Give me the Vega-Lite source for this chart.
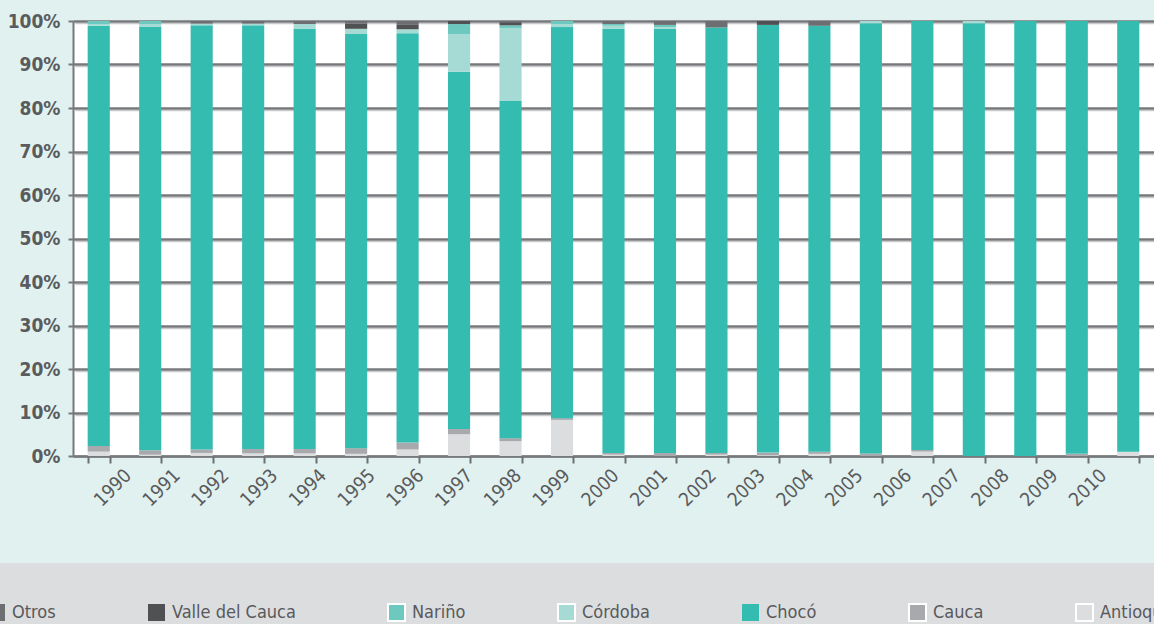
{
  "$schema": "https://vega.github.io/schema/vega-lite/v6.json",
  "autosize": {"type": "none"},
  "width": 1081,
  "height": 435,
  "padding": {"left": 73, "top": 21, "right": 0, "bottom": 168},
  "background": "#e1f1ef",
  "config": {
    "font": "DejaVu Sans Condensed, DejaVu Sans, sans-serif",
    "view": {"fill": "#ffffff", "stroke": null}
  },
  "data": {
    "values": [
      {"year": "1990", "dep": "Antioquia", "v": 1.0}, {"year": "1990", "dep": "Cauca", "v": 1.3}, {"year": "1990", "dep": "Chocó", "v": 96.6}, {"year": "1990", "dep": "Córdoba", "v": 0.4}, {"year": "1990", "dep": "Nariño", "v": 0.7},
      {"year": "1991", "dep": "Antioquia", "v": 0.3}, {"year": "1991", "dep": "Cauca", "v": 1.0}, {"year": "1991", "dep": "Chocó", "v": 97.3}, {"year": "1991", "dep": "Córdoba", "v": 0.7}, {"year": "1991", "dep": "Nariño", "v": 0.7},
      {"year": "1992", "dep": "Antioquia", "v": 0.7}, {"year": "1992", "dep": "Cauca", "v": 0.8}, {"year": "1992", "dep": "Chocó", "v": 97.5}, {"year": "1992", "dep": "Córdoba", "v": 0.4}, {"year": "1992", "dep": "Otros", "v": 0.6},
      {"year": "1993", "dep": "Antioquia", "v": 0.6}, {"year": "1993", "dep": "Cauca", "v": 1.0}, {"year": "1993", "dep": "Chocó", "v": 97.4}, {"year": "1993", "dep": "Córdoba", "v": 0.4}, {"year": "1993", "dep": "Otros", "v": 0.6},
      {"year": "1994", "dep": "Antioquia", "v": 0.6}, {"year": "1994", "dep": "Cauca", "v": 1.0}, {"year": "1994", "dep": "Chocó", "v": 96.6}, {"year": "1994", "dep": "Córdoba", "v": 1.1}, {"year": "1994", "dep": "Otros", "v": 0.7},
      {"year": "1995", "dep": "Antioquia", "v": 0.5}, {"year": "1995", "dep": "Cauca", "v": 1.3}, {"year": "1995", "dep": "Chocó", "v": 95.2}, {"year": "1995", "dep": "Córdoba", "v": 1.2}, {"year": "1995", "dep": "Valle del Cauca", "v": 1.2}, {"year": "1995", "dep": "Otros", "v": 0.6},
      {"year": "1996", "dep": "Antioquia", "v": 1.5}, {"year": "1996", "dep": "Cauca", "v": 1.6}, {"year": "1996", "dep": "Chocó", "v": 94.1}, {"year": "1996", "dep": "Córdoba", "v": 0.9}, {"year": "1996", "dep": "Valle del Cauca", "v": 1.0}, {"year": "1996", "dep": "Otros", "v": 0.9},
      {"year": "1997", "dep": "Antioquia", "v": 5.0}, {"year": "1997", "dep": "Cauca", "v": 1.2}, {"year": "1997", "dep": "Chocó", "v": 82.1}, {"year": "1997", "dep": "Córdoba", "v": 8.7}, {"year": "1997", "dep": "Nariño", "v": 2.3}, {"year": "1997", "dep": "Valle del Cauca", "v": 0.7},
      {"year": "1998", "dep": "Antioquia", "v": 3.4}, {"year": "1998", "dep": "Cauca", "v": 0.7}, {"year": "1998", "dep": "Chocó", "v": 77.5}, {"year": "1998", "dep": "Córdoba", "v": 16.8}, {"year": "1998", "dep": "Nariño", "v": 0.6}, {"year": "1998", "dep": "Valle del Cauca", "v": 0.7}, {"year": "1998", "dep": "Otros", "v": 0.3},
      {"year": "1999", "dep": "Antioquia", "v": 8.3}, {"year": "1999", "dep": "Cauca", "v": 0.4}, {"year": "1999", "dep": "Chocó", "v": 89.9}, {"year": "1999", "dep": "Córdoba", "v": 0.7}, {"year": "1999", "dep": "Nariño", "v": 0.7},
      {"year": "2000", "dep": "Antioquia", "v": 0.3}, {"year": "2000", "dep": "Cauca", "v": 0.4}, {"year": "2000", "dep": "Chocó", "v": 97.5}, {"year": "2000", "dep": "Córdoba", "v": 0.7}, {"year": "2000", "dep": "Nariño", "v": 0.4}, {"year": "2000", "dep": "Otros", "v": 0.7},
      {"year": "2001", "dep": "Cauca", "v": 0.7}, {"year": "2001", "dep": "Chocó", "v": 97.5}, {"year": "2001", "dep": "Córdoba", "v": 0.4}, {"year": "2001", "dep": "Nariño", "v": 0.5}, {"year": "2001", "dep": "Otros", "v": 0.9},
      {"year": "2002", "dep": "Antioquia", "v": 0.3}, {"year": "2002", "dep": "Cauca", "v": 0.4}, {"year": "2002", "dep": "Chocó", "v": 97.8}, {"year": "2002", "dep": "Otros", "v": 1.5},
      {"year": "2003", "dep": "Antioquia", "v": 0.2}, {"year": "2003", "dep": "Cauca", "v": 0.6}, {"year": "2003", "dep": "Chocó", "v": 98.3}, {"year": "2003", "dep": "Valle del Cauca", "v": 0.9},
      {"year": "2004", "dep": "Antioquia", "v": 0.5}, {"year": "2004", "dep": "Cauca", "v": 0.5}, {"year": "2004", "dep": "Chocó", "v": 97.9}, {"year": "2004", "dep": "Otros", "v": 1.1},
      {"year": "2005", "dep": "Cauca", "v": 0.6}, {"year": "2005", "dep": "Chocó", "v": 98.9}, {"year": "2005", "dep": "Córdoba", "v": 0.5},
      {"year": "2006", "dep": "Antioquia", "v": 1.0}, {"year": "2006", "dep": "Cauca", "v": 0.4}, {"year": "2006", "dep": "Chocó", "v": 98.6},
      {"year": "2007", "dep": "Chocó", "v": 99.5}, {"year": "2007", "dep": "Córdoba", "v": 0.5},
      {"year": "2008", "dep": "Chocó", "v": 100},
      {"year": "2009", "dep": "Cauca", "v": 0.5}, {"year": "2009", "dep": "Chocó", "v": 99.5},
      {"year": "2010", "dep": "Antioquia", "v": 1.0}, {"year": "2010", "dep": "Chocó", "v": 99.0}
    ]
  },
  "transform": [
    {"calculate": "indexof(['Antioquia','Cauca','Chocó','Córdoba','Nariño','Valle del Cauca','Otros'], datum.dep)", "as": "ord"}
  ],
  "resolve": {"axis": {"y": "independent"}},
  "layer": [
    {
      "mark": {"type": "bar", "opacity": 0},
      "encoding": {
        "x": {"field": "year", "type": "nominal", "title": null, "scale": {"paddingInner": 0.57, "paddingOuter": 0.285}},
        "y": {
          "field": "v", "type": "quantitative", "stack": "normalize", "title": null,
          "scale": {"domain": [0, 1], "nice": false},
          "axis": {
            "orient": "right", "values": [0.1, 0.2, 0.3, 0.4, 0.5, 0.6, 0.7, 0.8, 0.9, 1],
            "labels": false, "ticks": false, "domain": false,
            "grid": true, "gridColor": "#c9cacc", "gridWidth": 1.5, "translate": 2.4
          }
        }
      }
    },
    {
      "mark": {"type": "bar"},
      "encoding": {
        "x": {
          "field": "year", "type": "nominal", "title": null,
          "scale": {"paddingInner": 0.57, "paddingOuter": 0.285},
          "axis": {
            "labelAngle": -45, "labelFontSize": 19, "labelColor": "#5a5b5d",
            "labelPadding": 9,
            "labelOffset": {"expr": "29 - 2.72 * (toNumber(datum.value) - 1990)"},
            "tickBand": "extent", "tickSize": 7, "tickWidth": 2, "tickColor": "#6d6e71",
            "domainColor": "#77787b", "domainWidth": 2, "grid": false
          }
        },
        "y": {
          "field": "v", "type": "quantitative", "stack": "normalize", "title": null,
          "scale": {"domain": [0, 1], "nice": false},
          "axis": {
            "orient": "left",
            "values": [0, 0.1, 0.2, 0.3, 0.4, 0.5, 0.6, 0.7, 0.8, 0.9, 1],
            "format": ".0%", "labelFontSize": 19, "labelFontWeight": "bold", "labelColor": "#5a5b5d",
            "labelPadding": 8, "tickSize": 5, "tickWidth": 2, "tickColor": "#77787b",
            "grid": true, "gridColor": "#77787b", "gridWidth": 2.5,
            "domainColor": "#77787b", "domainWidth": 2
          }
        },
        "order": {"field": "ord", "type": "quantitative"},
        "color": {
          "field": "dep", "type": "nominal", "title": null,
          "scale": {
            "domain": ["Antioquia", "Cauca", "Chocó", "Córdoba", "Nariño", "Valle del Cauca", "Otros"],
            "range": ["#dcdddf", "#a7a9ac", "#35bcb1", "#a6dbd5", "#6dc8bf", "#505153", "#6d6e71"]
          },
          "legend": {
            "values": ["Otros", "Valle del Cauca", "Nariño", "Córdoba", "Chocó", "Cauca", "Antioquia"],
            "orient": "none", "direction": "horizontal",
            "legendX": -126, "legendY": 542,
            "fillColor": "#dcdddf", "padding": 40,
            "symbolType": "square", "symbolSize": 289, "symbolOpacity": 1,
            "labelFontSize": 18, "labelColor": "#58595b", "labelOffset": 6, "labelLimit": 400,
            "columnPadding": 88,
            "encode": {
              "symbols": {
                "update": {
                  "stroke": [
                    {"test": "datum.value === 'Chocó' || datum.value === 'Valle del Cauca' || datum.value === 'Otros'", "value": "transparent"},
                    {"value": "#ffffff"}
                  ],
                  "strokeWidth": {"value": 2}
                }
              }
            }
          }
        }
      }
    }
  ]
}
